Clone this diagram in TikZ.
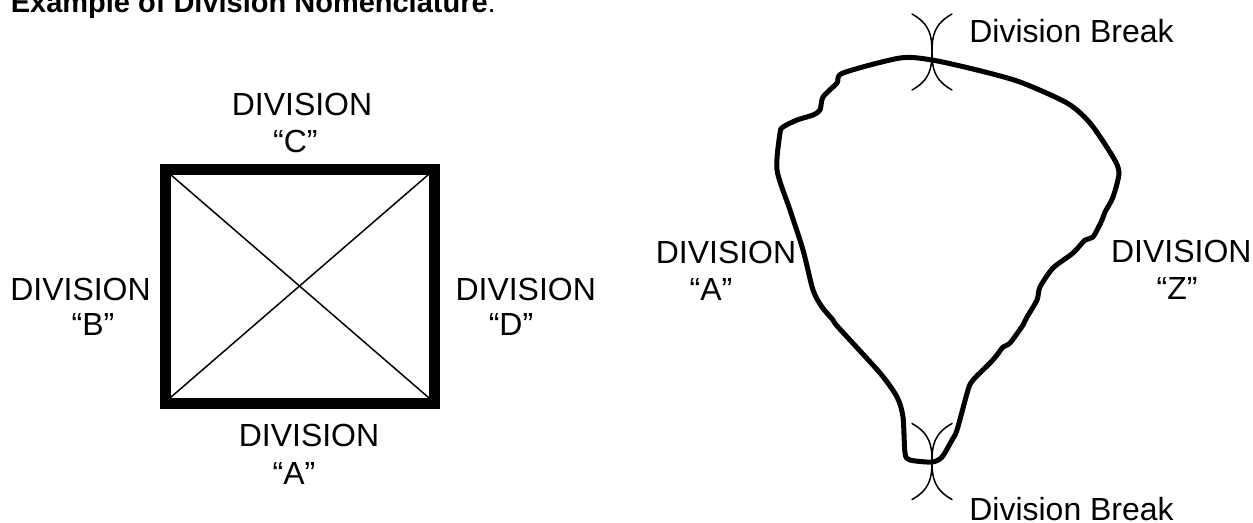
\documentclass[tikz,border=0pt]{standalone}
\usepackage{fontspec}
\setmainfont{Liberation Sans}
\usetikzlibrary{calc}
\tikzset{
  every picture/.style={line join=round, line cap=round},
  lbl/.style={anchor=base, inner sep=0pt, font=\fontsize{18.2}{21}\selectfont},
  title/.style={anchor=base west, inner sep=0pt, font=\fontsize{16.5}{19}\selectfont},
  frame/.style={line width=6.26pt, line cap=butt, line join=miter},
  thinline/.style={line width=0.85pt},
  outline/.style={line width=2.85pt},
}
% break mark ")(" centred on a coordinate
\newcommand{\brkmark}[1]{%
  \draw[thinline] ($(#1)+(-20,-38)$) .. controls ($(#1)+(-2,-28)$) and ($(#1)+(0,-16)$) .. (#1)
    .. controls ($(#1)+(0,16)$) and ($(#1)+(-2,28)$) .. ($(#1)+(-20,38)$);
  \draw[thinline] ($(#1)+(20,-38)$) .. controls ($(#1)+(2,-28)$) and ($(#1)+(0,-16)$) .. (#1)
    .. controls ($(#1)+(0,16)$) and ($(#1)+(2,28)$) .. ($(#1)+(20,38)$);
}

\begin{document}
\begin{tikzpicture}[x=0.02cm, y=-0.02cm]
  \useasboundingbox (0,0) rectangle (1253,522);
  \node[title] (ttl) at (10.5,12.7) {\textbf{Example of Division Nomenclature}:};

  % square with its four divisions
  \coordinate (sqnw) at (165,169);
  \coordinate (sqse) at (434,403);
  \draw[thinline] (170.5,174.5) -- (428.5,397.5);
  \draw[thinline] (170.5,397.5) -- (428.5,174.5);
  \draw[frame] (sqnw) rectangle (sqse);
  \node[lbl] (cdiv) at (302,115.7) {DIVISION};
  \node[lbl] (cname) at (295.3,152.7) {“C”};
  \node[lbl] (bdiv) at (80.5,300) {DIVISION};
  \node[lbl] (bname) at (93,335) {“B”};
  \node[lbl] (ddiv) at (525.7,300) {DIVISION};
  \node[lbl] (dname) at (511,335) {“D”};
  \node[lbl] (adiv) at (309,446.7) {DIVISION};
  \node[lbl] (aname) at (294,484) {“A”};

  % irregular parcel
  \draw[outline] plot[smooth cycle, tension=0.45] coordinates {
    (932,60) (900,58) (843,73) (837,83) (823,97) (820,110) (813,115) (797,120)
    (783,127) (780,133) (777,170) (790,210) (803,250) (813,290) (822,307) (833,320)
    (838,327) (880,373) (897,397) (903,417) (905,453) (910,460) (932,462) (942,457)
    (952,440) (957,430) (968,390) (973,380) (990,363) (997,355) (1003,347) (1010,343)
    (1023,325) (1027,317) (1037,300) (1040,287) (1053,268) (1073,253) (1085,240)
    (1093,237) (1102,220) (1105,212) (1113,197) (1119,173) (1113,157) (1090,123)
    (1067,103) (1020,82) (977,70)};
  \coordinate (topbrk) at (932,52);
  \coordinate (botbrk) at (932,461.5);
  \brkmark{topbrk}
  \brkmark{botbrk}
  \node[lbl, anchor=base west] (topnote) at (969,42) {Division Break};
  \node[lbl, anchor=base west] (botnote) at (969,520) {Division Break};
  \node[lbl] (pdiv) at (726,263.3) {DIVISION};
  \node[lbl] (pname) at (711,300) {“A”};
  \node[lbl] (zdiv) at (1181.3,262.7) {DIVISION};
  \node[lbl] (zname) at (1177,299.3) {“Z”};
\end{tikzpicture}
\end{document}
